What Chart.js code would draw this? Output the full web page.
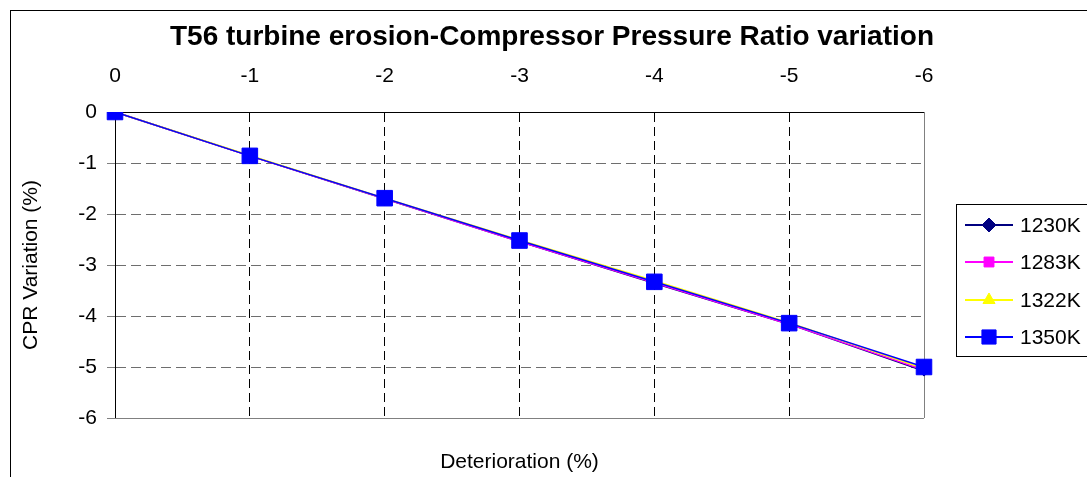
<!DOCTYPE html>
<html>
<head>
<meta charset="utf-8">
<script src="https://cdn.jsdelivr.net/npm/chart.js@4/dist/chart.umd.min.js"></script>
<style>
  html, body { margin: 0; padding: 0; background: #fff; }
  #wrap { width: 1087px; height: 477px; }
</style>
</head>
<body>
<div id="wrap"><canvas id="cprChart" width="1087" height="477"></canvas></div>
<script>
// deterioration steps (%), shown along the top axis
const deterioration = [0, -1, -2, -3, -4, -5, -6];
const yTicks = [0, -1, -2, -3, -4, -5, -6];

const seriesNames = ["1230K", "1283K", "1322K", "1350K"];
const cpr1230 = [0, -0.86, -1.70, -2.54, -3.36, -4.16, -5.08];
const cpr1283 = [0, -0.86, -1.70, -2.54, -3.35, -4.16, -5.06];
const cpr1322 = [0, -0.85, -1.69, -2.51, -3.31, -4.13, -5.03];
const cpr1350 = [0, -0.86, -1.69, -2.52, -3.33, -4.14, -5.00];

const colors = ["#000080", "#FF00FF", "#FFFF00", "#0000FF"];
const styles = ["rectRot", "rect", "triangle", "rect"];
const radii = [5, 5, 6, 11];
const legendRadii = [7, 7, 7, 10];

const FONT = "'Liberation Sans', Arial, sans-serif";

const datasets = [cpr1230, cpr1283, cpr1322, cpr1350].map((vals, i) => ({
  label: seriesNames[i],
  data: vals,
  borderColor: colors[i],
  backgroundColor: colors[i],
  borderWidth: 1.5,
  pointStyle: styles[i],
  pointRadius: radii[i],
  pointBorderWidth: 1,
  pointHoverRadius: radii[i],
  order: 3 - i,
  tension: 0
}));

// frame, titles and legend drawn around the plot
const decor = {
  id: "decor",
  beforeDraw(chart) {
    const ctx = chart.ctx;
    ctx.save();
    ctx.fillStyle = "#fff";
    ctx.fillRect(0, 0, chart.width, chart.height);
    ctx.strokeStyle = "#000";
    ctx.lineWidth = 1;
    ctx.strokeRect(10.5, 10.5, 1200, 600);
    ctx.restore();
  },
  beforeDatasetsDraw(chart) {
    const { ctx, chartArea: a } = chart;
    ctx.save();
    ctx.strokeStyle = "#808080";
    ctx.lineWidth = 1;
    ctx.beginPath();
    ctx.moveTo(Math.round(a.right) + 0.5, a.top);
    ctx.lineTo(Math.round(a.right) + 0.5, a.bottom);
    ctx.moveTo(a.left, Math.round(a.bottom) + 0.5);
    ctx.lineTo(a.right, Math.round(a.bottom) + 0.5);
    ctx.stroke();
    ctx.restore();
  },
  afterDraw(chart) {
    const { ctx, chartArea: a } = chart;
    ctx.save();
    ctx.fillStyle = "#000";
    ctx.textAlign = "center";
    ctx.textBaseline = "middle";
    ctx.font = "bold 28px " + FONT;
    ctx.fillText("T56 turbine erosion-Compressor Pressure Ratio variation", 552, 37);
    ctx.font = "21px " + FONT;
    ctx.fillText("Deterioration (%)", (a.left + a.right) / 2, 462);
    ctx.save();
    ctx.translate(31, (a.top + a.bottom) / 2);
    ctx.rotate(-Math.PI / 2);
    ctx.fillText("CPR Variation (%)", 0, 0);
    ctx.restore();

    // legend
    ctx.strokeStyle = "#000";
    ctx.lineWidth = 1;
    ctx.strokeRect(956.5, 204.5, 300, 152);
    const rowY = [225, 262, 300, 337];
    seriesNames.forEach((name, i) => {
      const y = rowY[i];
      ctx.strokeStyle = colors[i];
      ctx.lineWidth = 2;
      ctx.beginPath();
      ctx.moveTo(965, y);
      ctx.lineTo(1013, y);
      ctx.stroke();
      ctx.fillStyle = colors[i];
      ctx.strokeStyle = colors[i];
      ctx.lineWidth = 1;
      Chart.helpers.drawPoint(ctx, {
        pointStyle: styles[i],
        radius: legendRadii[i],
        borderWidth: 1,
        rotation: 0
      }, 989, y);
      ctx.fillStyle = "#000";
      ctx.textAlign = "left";
      ctx.font = "21px " + FONT;
      ctx.fillText(name, 1020, y + 1);
    });
    ctx.restore();
  }
};

new Chart(document.getElementById("cprChart").getContext("2d"), {
  type: "line",
  data: {
    labels: deterioration.map(String),
    datasets: datasets
  },
  options: {
    responsive: false,
    animation: false,
    devicePixelRatio: 1,
    layout: { padding: { left: 0, top: 0, right: 163, bottom: 59 } },
    plugins: {
      legend: { display: false },
      title: { display: false },
      tooltip: { enabled: false }
    },
    scales: {
      x: {
        position: "top",
        offset: false,
        afterFit: (s) => { s.height = 112; },
        grid: {
          color: (c) => (c.index === 0 || c.index === deterioration.length - 1) ? "rgba(0,0,0,0)" : "#000",
          lineWidth: 1,
          drawTicks: false,
          offset: false
        },
        border: { display: true, color: "#000", width: 1, dash: [9, 5] },
        ticks: {
          color: "#000",
          font: { family: FONT, size: 21 },
          padding: 23,
          maxRotation: 0,
          autoSkip: false
        }
      },
      y: {
        min: yTicks[yTicks.length - 1],
        max: yTicks[0],
        afterFit: (s) => { s.width = 115; },
        grid: {
          color: (c) => (c.tick && (c.tick.value === 0 || c.tick.value === -6)) ? "rgba(0,0,0,0)" : "#6e6e6e",
          lineWidth: 1,
          tickColor: "#808080",
          tickLength: 8,
          drawTicks: true
        },
        border: { display: true, color: "#000", width: 1, dash: [10, 5] },
        ticks: {
          stepSize: 1,
          color: "#000",
          font: { family: FONT, size: 21 },
          padding: 10,
          callback: (v) => String(v)
        }
      }
    }
  },
  plugins: [decor]
});
</script>
</body>
</html>
